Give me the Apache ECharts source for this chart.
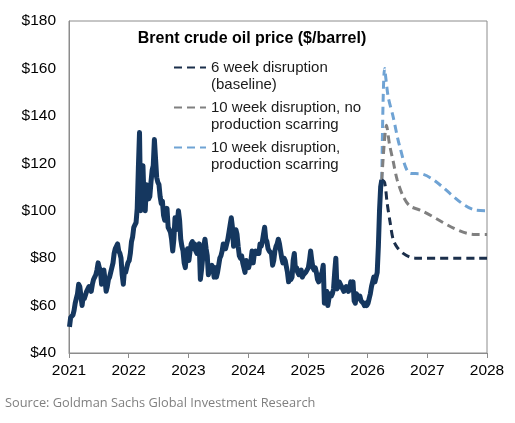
<!DOCTYPE html>
<html>
<head>
<meta charset="utf-8">
<script src="https://cdn.jsdelivr.net/npm/echarts@6/dist/echarts.min.js"></script>
<style>html,body{margin:0;padding:0;background:#fff}#c{width:515px;height:423px}</style>
</head>
<body>
<div id="c"></div>
<script>
// Historical weekly Brent prices ($/barrel), first week starts Jan 4 of each year
const hist2021 = [51,55,55,56, 58,61,63,65, 69,68,64,60,64, 63,63,66,66, 68,68,66,69, 71,72,73,75,78, 76,75,69,74, 75,71,66,68, 71,72,74,76,78, 82,84,85,86, 83,82,80,73, 69,75,74,76,78];
const hist2022 = [79,82,87,89, 93,94,95,101, 118,133,100,115,119, 104,100,111,106, 105,106,112,117, 119,130,122,114,112, 111,106,103,104, 98,96,96,101, 93,92,91,88,83, 88,97,92,95, 100,96,88,85, 83,78,76,81,84];
const hist2023 = [79,83,86,87, 84,86,83,82, 84,86,71,75,80, 85,88,84,81, 73,75,76,77, 76,72,76,72,74, 77,80,81,83, 86,86,84,84, 88,91,94,97,93, 85,90,92,90, 85,81,80,81, 78,76,74,79,77];
const hist2024 = [76,78,79,83, 78,82,83,82, 83,82,86,85,87, 90,93,88,87, 84,83,83,82, 77,79,83,85,86, 88,86,83,80, 78,80,79,79, 74,70,72,71,72, 79,82,75,76, 74,73,74,75, 72,73,73,74,74];
const hist2025 = [76,79,83,79, 76,75,76,74, 71,70,72,73,74, 77,61,65,66, 60,63,65,64, 65,67,74,80,67, 68,70,69,68, 67,66,67,68, 67,66,67,70,68, 70,62,61,65, 65,63,64,62, 62,61,60,61,60];
const hist2026 = [61,63,65,68, 70,72,70,72, 74,85,100,110,113];

// Scenario paths [date, $/barrel]
const scenarioDates6w   = ['2026-03-29','2026-04-15','2026-05-01','2026-05-19','2026-06-06','2026-07-01','2026-08-07','2026-09-15','2026-10-19','2028-01-01'];
const scenarioVals6w    = [113,112,103,95,88,84.5,82,80.5,80,80];
const scenarioDatesNo   = ['2026-03-29','2026-04-27','2026-05-15','2026-06-06','2026-07-01','2026-08-07','2026-09-16','2026-11-17','2027-10-19','2028-01-01'];
const scenarioValsNo    = [113,136,128,121,113,106,102,100.3,90,90];
const scenarioDatesScar = ['2026-03-29','2026-04-15','2026-05-07','2026-06-06','2026-07-17','2026-09-16','2026-11-28','2027-10-19','2028-01-01'];
const scenarioValsScar  = [113,160,148,139.7,127,115.8,115.5,100.3,100];

const seriesNames = ['Brent', '6 week disruption\n(baseline)', '10 week disruption, no\nproduction scarring', '10 week disruption,\nproduction scarring'];
const yTicks = [40,60,80,100,120,140,160,180];
const xYears = [2021,2022,2023,2024,2025,2026,2027,2028];

function toYear(ms){
  const d = new Date(ms); const y = d.getUTCFullYear();
  const s = Date.UTC(y,0,1), e = Date.UTC(y+1,0,1);
  return y + (ms - s)/(e - s);
}
function histPoints(year, arr){
  return arr.map((v,i)=>[toYear(Date.UTC(year,0,4) + i*7*86400000), v]);
}
function pathPoints(dates, vals){
  return dates.map((d,i)=>[toYear(Date.parse(d+'T00:00:00Z')), vals[i]]);
}
const histData = [].concat(
  histPoints(2021,hist2021), histPoints(2022,hist2022), histPoints(2023,hist2023),
  histPoints(2024,hist2024), histPoints(2025,hist2025), histPoints(2026,hist2026));

const chart = echarts.init(document.getElementById('c'), null, {renderer:'canvas'});
const legendBase = (name, top) => ({
  data:[name], orient:'vertical', left:173, top:top, padding:0,
  itemWidth:32, itemHeight:14,
  itemStyle:{opacity:0, borderWidth:0},
  textStyle:{fontSize:15, color:'#1a1a1a', fontFamily:'Liberation Sans, Arial, sans-serif', lineHeight:17},
  formatter: n => '\n' + n,
  selectedMode:false
});
chart.setOption({
  animation:false,
  title:[{
    text:'Brent crude oil price ($/barrel)', left:252, top:31, textAlign:'center', padding:0,
    textStyle:{fontSize:16, fontWeight:'bold', color:'#000', fontFamily:'Liberation Sans, Arial, sans-serif'}
  },{
    text:'Source: Goldman Sachs Global Investment Research', left:5, top:397, padding:0,
    textStyle:{fontSize:12.8, fontWeight:'normal', color:'#808080', fontFamily:'Open Sans, sans-serif'}
  }],
  legend:[legendBase(seriesNames[1],42), legendBase(seriesNames[2],82), legendBase(seriesNames[3],122)],
  grid:{left:69, right:28, top:21, bottom:70, show:true, borderColor:'#8c8c8c', borderWidth:1},
  xAxis:{
    type:'value', min:xYears[0], max:xYears[xYears.length-1], interval:1,
    axisLine:{lineStyle:{color:'#8c8c8c'}},
    axisTick:{show:true, length:5, lineStyle:{color:'#8c8c8c'}},
    splitLine:{show:false},
    axisLabel:{fontSize:15.5, color:'#000', margin:10, fontFamily:'Liberation Sans, Arial, sans-serif', formatter:v=>String(v)}
  },
  yAxis:{
    type:'value', min:yTicks[0], max:yTicks[yTicks.length-1], interval:20,
    axisLine:{show:true, lineStyle:{color:'#8c8c8c'}},
    axisTick:{show:false},
    splitLine:{show:false},
    axisLabel:{fontSize:15.5, color:'#000', margin:13, fontFamily:'Liberation Sans, Arial, sans-serif', formatter:v=>'$'+v}
  },
  series:[
    {name:seriesNames[0], type:'line', data:histData, symbol:'none', z:5,
     lineStyle:{color:'#15375f', width:5, join:'round'}},
    {name:seriesNames[1], type:'line', data:pathPoints(scenarioDates6w,scenarioVals6w), symbol:'none', smooth:0.3, z:4,
     itemStyle:{color:'#1b2f4b'}, lineStyle:{color:'#1b2f4b', width:3, type:[8,5]}},
    {name:seriesNames[2], type:'line', data:pathPoints(scenarioDatesNo,scenarioValsNo), symbol:'none', smooth:0.3, z:3,
     itemStyle:{color:'#808080'}, lineStyle:{color:'#808080', width:3, type:[8,5]}},
    {name:seriesNames[3], type:'line', data:pathPoints(scenarioDatesScar,scenarioValsScar), symbol:'none', smooth:0.3, z:2,
     itemStyle:{color:'#6fa3d4'}, lineStyle:{color:'#6fa3d4', width:3, type:[8,5]}}
  ]
});
</script>
</body>
</html>
